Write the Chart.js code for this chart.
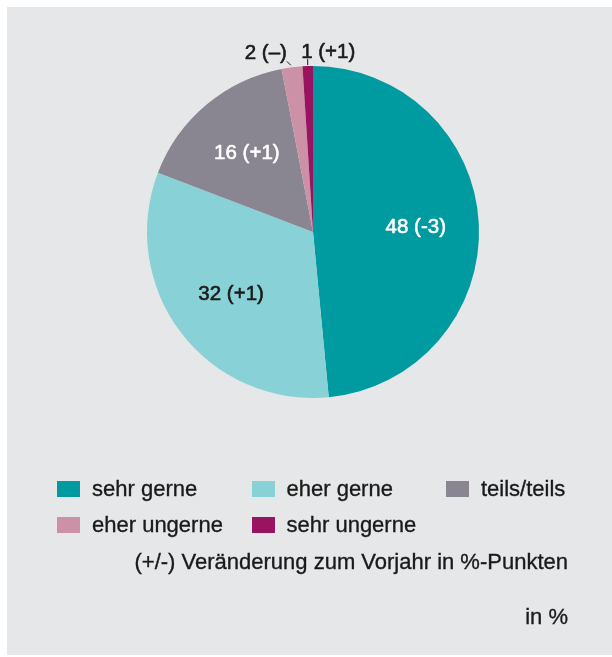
<!DOCTYPE html>
<html><head><meta charset="utf-8">
<script src="https://cdn.jsdelivr.net/npm/chart.js@4/dist/chart.umd.min.js"></script>
<style>
html,body{margin:0;padding:0;background:#ffffff;}
body{width:612px;height:657px;position:relative;overflow:hidden;font-family:"Liberation Sans",Arial,Helvetica,sans-serif;color:#1a1a1a;}
#bg{position:absolute;left:7px;top:7px;width:605px;height:648px;background:#e6e7e9;}
#wrap{position:absolute;left:0;top:0;width:612px;height:657px;}
.legtext{position:absolute;font-size:22px;line-height:22px;white-space:nowrap;-webkit-text-stroke:0.35px #1a1a1a;}
.sw{position:absolute;width:23px;height:16px;}
.note{position:absolute;right:44px;font-size:22px;line-height:22px;white-space:nowrap;-webkit-text-stroke:0.35px #1a1a1a;}
</style></head>
<body>
<div id="bg"></div>
<div id="wrap"><canvas id="c" width="612" height="657"></canvas></div>
<div id="legend"></div>
<div class="note" id="note1" style="top:551px"></div>
<div class="note" id="note2" style="top:606px"></div>
<script>
// ---- data ----
const categories = ['sehr gerne', 'eher gerne', 'teils/teils', 'eher ungerne', 'sehr ungerne'];
const shares = [48, 32, 16, 2, 1];
const changes = ['-3', '+1', '+1', '–', '+1'];
const sliceColors = ['#009aa1', '#88d1d6', '#8a8691', '#cc91a6', '#981460'];
const labelColors = ['#ffffff', '#1a1a1a', '#ffffff', '#1a1a1a', '#1a1a1a'];
const noteText = '(+/-) Veränderung zum Vorjahr in %-Punkten';
const unitText = 'in %';

// ---- legend (HTML) ----
const legend = document.getElementById('legend');
categories.forEach((name, i) => {
  const col = i % 3, row = Math.floor(i / 3);
  const left = 57 + col * 194.5;
  const top = 481 + row * 35.5;
  const sw = document.createElement('div');
  sw.className = 'sw';
  sw.style.left = left + 'px';
  sw.style.top = top + 'px';
  sw.style.background = sliceColors[i];
  legend.appendChild(sw);
  const t = document.createElement('div');
  t.className = 'legtext';
  t.style.left = (left + 35) + 'px';
  t.style.top = (top - 3) + 'px';
  t.textContent = name;
  legend.appendChild(t);
});
document.getElementById('note1').textContent = noteText;
document.getElementById('note2').textContent = unitText;

// ---- value labels plugin ----
const valueLabels = {
  id: 'valueLabels',
  afterDatasetsDraw(chart) {
    const ctx = chart.ctx;
    const meta = chart.getDatasetMeta(0);
    ctx.save();
    ctx.font = '20.5px "Liberation Sans", Arial, sans-serif';
    ctx.lineJoin = 'round';
    meta.data.forEach((arc, i) => {
      const p = arc.getProps(['x', 'y', 'startAngle', 'endAngle', 'outerRadius'], true);
      const mid = (p.startAngle + p.endAngle) / 2;
      const text = shares[i] + ' (' + changes[i] + ')';
      ctx.fillStyle = labelColors[i];
      ctx.strokeStyle = labelColors[i];
      let tx, ty;
      if (shares[i] >= 5) {
        const d = p.outerRadius * 0.62;
        ctx.textAlign = 'center';
        ctx.textBaseline = 'middle';
        tx = p.x + Math.cos(mid) * d;
        ty = p.y + Math.sin(mid) * d;
      } else {
        const ex = p.x + Math.cos(mid) * (p.outerRadius + 1);
        const ey = p.y + Math.sin(mid) * (p.outerRadius + 1);
        ctx.lineWidth = 1;
        ctx.beginPath();
        ctx.textBaseline = 'alphabetic';
        if (ex < p.x - 10) {
          ctx.moveTo(ex - 1, ey - 1);
          ctx.lineTo(ex - 5, ey - 5);
          ctx.stroke();
          ctx.textAlign = 'right';
          tx = ex - 5; ty = ey - 7;
        } else {
          ctx.moveTo(ex, ey);
          ctx.lineTo(ex, ey - 6);
          ctx.stroke();
          ctx.textAlign = 'left';
          tx = ex - 6.5; ty = ey - 7;
        }
      }
      ctx.lineWidth = 0.6;
      ctx.strokeText(text, tx, ty);
      ctx.fillText(text, tx, ty);
    });
    ctx.restore();
  }
};

new Chart(document.getElementById('c'), {
  type: 'pie',
  data: {
    labels: categories,
    datasets: [{
      data: shares,
      backgroundColor: sliceColors,
      borderWidth: 0,
      hoverOffset: 0
    }]
  },
  options: {
    responsive: false,
    animation: false,
    radius: 166,
    layout: { padding: { left: 147, top: 66, right: 133, bottom: 259 } },
    plugins: { legend: { display: false }, tooltip: { enabled: false } }
  },
  plugins: [valueLabels]
});
</script>
</body></html>
